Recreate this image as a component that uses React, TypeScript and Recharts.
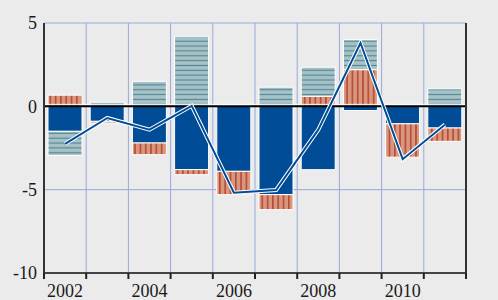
import {
  ComposedChart,
  Bar,
  Line,
  XAxis,
  YAxis,
  CartesianGrid,
  ReferenceLine,
} from 'recharts';

const years = ['2002', '2003', '2004', '2005', '2006', '2007', '2008', '2009', '2010', '2011'];
const solidPart = [-1.5, -0.9, -2.2, -3.8, -3.9, -5.3, -3.8, -0.25, -1.05, -1.3];
const hatchedPart = [0.67, -0.1, -0.7, -0.3, -1.4, -0.9, 0.6, 2.2, -2.0, -0.8];
const linedPart = [-1.45, 0.25, 1.5, 4.2, 0.05, 1.15, 1.75, 1.8, 0, 1.05];
const totalLine = [-2.25, -0.7, -1.4, 0.03, -5.18, -5.02, -1.4, 3.8, -3.17, -1.1];
const yTicks = [-10, -5, 0, 5];

const data = years.map((year, i) => ({
  year,
  solid: solidPart[i],
  hatched: hatchedPart[i],
  lined: linedPart[i],
  total: totalLine[i],
}));

const W = 498;
const H = 300;
const LEFT = 44;
const RIGHT = 32;
const TOP = 23;
const BOTTOM = 27;
const BAND = (W - LEFT - RIGHT) / years.length;
const AXIS_Y = H - BOTTOM;
const labelStyle = { fontFamily: '"Liberation Serif", "Times New Roman", serif', fontSize: 18 };

const BLUE = '#004c97';
const GRID = '#9aa8dc';

function YearTick(props: any) {
  const { x, index, payload } = props;
  const left = x - BAND / 2;
  return (
    <g>
      <line x1={left} x2={left} y1={AXIS_Y} y2={AXIS_Y + 6} stroke="#222" strokeWidth={2} />
      {index === years.length - 1 && (
        <line x1={left + BAND} x2={left + BAND} y1={AXIS_Y} y2={AXIS_Y + 6} stroke="#222" strokeWidth={2} />
      )}
      {index % 2 === 0 && (
        <text x={x} y={AXIS_Y + 24} textAnchor="middle" fill="#1a1a1a" style={labelStyle}>
          {payload.value}
        </text>
      )}
    </g>
  );
}

function LeftTick(props: any) {
  const { y, payload } = props;
  return (
    <text x={LEFT - 7} y={y} dy="0.35em" textAnchor="end" fill="#1a1a1a" style={labelStyle}>
      {payload.value}
    </text>
  );
}

function RightTick(props: any) {
  const { y, payload } = props;
  return (
    <text x={W - 14} y={y} dy="0.35em" textAnchor="middle" fill="#1a1a1a" style={labelStyle}>
      {payload.value}
    </text>
  );
}

function ZeroLine(p: any) {
  return (
    <g>
      <line x1={p.x1} x2={p.x2} y1={p.y1 - 2} y2={p.y2 - 2} stroke="#fff" strokeWidth={1} />
      <line x1={p.x1} x2={p.x2} y1={p.y1} y2={p.y2} stroke="#000" strokeWidth={2} />
    </g>
  );
}

export default function App() {
  return (
    <div style={{ position: 'absolute', left: 0, top: 0, width: W, height: H, background: '#ebebeb' }}>
      <ComposedChart
        width={W}
        height={H}
        data={data}
        stackOffset="sign"
        margin={{ top: TOP, right: 0, left: 0, bottom: 0 }}
      >
        <defs>
          <pattern id="vhatch" width={5.3} height={10} patternUnits="userSpaceOnUse">
            <rect width={5.3} height={10} fill="#d9967c" />
            <line x1={2.6} x2={2.6} y1={0} y2={10} stroke="#a8301f" strokeWidth={1.2} />
          </pattern>
          <pattern id="hlines" width={10} height={4.85} patternUnits="userSpaceOnUse">
            <rect width={10} height={4.85} fill="#a9c2c7" />
            <line x1={0} x2={10} y1={2.4} y2={2.4} stroke="#4e8a97" strokeWidth={1.2} />
          </pattern>
        </defs>
        <CartesianGrid
          yAxisId="left"
          stroke={GRID}
          strokeWidth={1}
          verticalCoordinatesGenerator={({ offset }: any) =>
            years.slice(1).map((_, i) => offset.left + ((i + 1) * offset.width) / years.length)
          }
        />
        <XAxis
          dataKey="year"
          height={BOTTOM}
          interval={0}
          tickLine={false}
          axisLine={{ stroke: '#444', strokeWidth: 2 }}
          tick={<YearTick />}
        />
        <YAxis
          yAxisId="left"
          width={LEFT}
          domain={[-10, 5]}
          ticks={yTicks}
          tickLine={false}
          axisLine={{ stroke: '#333', strokeWidth: 2 }}
          tick={<LeftTick />}
        />
        <YAxis
          yAxisId="right"
          orientation="right"
          width={RIGHT}
          domain={[-10, 5]}
          ticks={yTicks}
          tickLine={false}
          axisLine={{ stroke: '#333', strokeWidth: 2 }}
          tick={<RightTick />}
        />
        <Bar yAxisId="left" dataKey="solid" stackId="a" barSize={34} fill={BLUE} stroke="#fff" strokeWidth={1} isAnimationActive={false} />
        <Bar yAxisId="left" dataKey="hatched" stackId="a" barSize={34} fill="url(#vhatch)" stroke="#fff" strokeWidth={1} isAnimationActive={false} />
        <Bar yAxisId="left" dataKey="lined" stackId="a" barSize={34} fill="url(#hlines)" stroke="#fff" strokeWidth={1} isAnimationActive={false} />
        <ReferenceLine yAxisId="left" y={0} shape={<ZeroLine />} />
        <Line yAxisId="left" dataKey="total" stroke="#fff" strokeWidth={4} dot={false} activeDot={false} isAnimationActive={false} />
        <Line yAxisId="left" dataKey="total" stroke={BLUE} strokeWidth={2} dot={false} activeDot={false} isAnimationActive={false} />
      </ComposedChart>
    </div>
  );
}
